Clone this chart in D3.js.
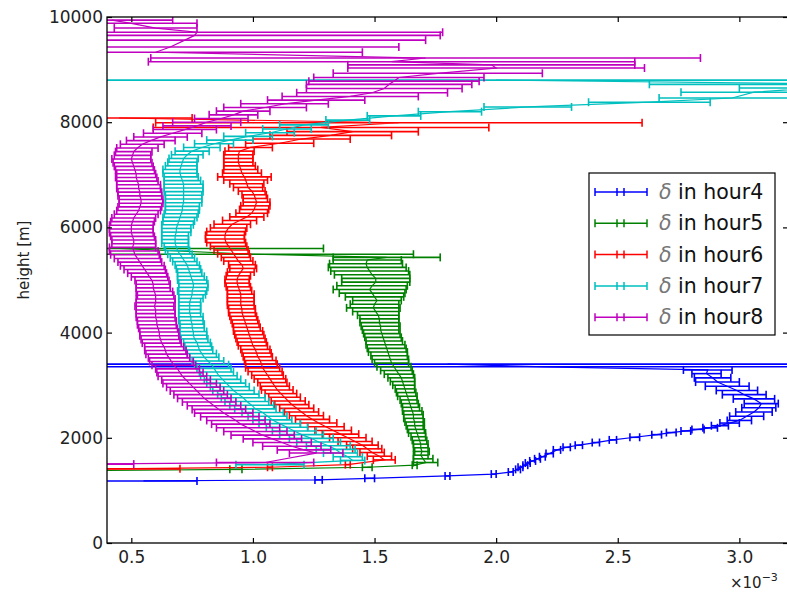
<!DOCTYPE html>
<html>
<head>
<meta charset="utf-8">
<script src="https://cdn.jsdelivr.net/npm/d3@7"></script>
<style>
  html, body { margin: 0; padding: 0; background: #fff; }
  svg { display: block; font-family: "DejaVu Sans", sans-serif; }
</style>
</head>
<body>
<svg id="chart" width="787" height="594"></svg>
<script>
// Profiles of delta (x 1e-3) against height [m]; each row is [height, value, x-error].
const hour4 = [
  [1180, 0.55, 0.22], [1200, 1.27, 0.015], [1230, 1.48, 0.02], [1275, 1.80, 0.01],
  [1310, 1.99, 0.01], [1350, 2.06, 0.01], [1400, 2.09, 0.01], [1440, 2.10, 0.01],
  [1480, 2.12, 0.01], [1520, 2.13, 0.01], [1560, 2.15, 0.012], [1600, 2.17, 0.012],
  [1640, 2.19, 0.012], [1700, 2.22, 0.015], [1770, 2.25, 0.015], [1820, 2.29, 0.015],
  [1860, 2.34, 0.015], [1910, 2.41, 0.015], [1960, 2.48, 0.015], [2010, 2.57, 0.02],
  [2060, 2.66, 0.02], [2100, 2.72, 0.02], [2130, 2.78, 0.02], [2160, 2.83, 0.025],
  [2190, 2.88, 0.03], [2230, 2.92, 0.035], [2280, 2.96, 0.04], [2330, 3.00, 0.05],
  [2410, 3.03, 0.07], [2490, 3.06, 0.075], [2570, 3.08, 0.07], [2650, 3.09, 0.07],
  [2740, 3.06, 0.085], [2820, 3.02, 0.09], [2900, 2.99, 0.085], [2980, 2.95, 0.09],
  [3060, 2.91, 0.09], [3140, 2.89, 0.075], [3220, 2.865, 0.06], [3290, 2.87, 0.1],
  [3350, 2.2, 3.0], [3400, 1.8, 3.0]
];

const hour5 = [
  [1370, 0.2, 0.15], [1400, 0.93, 0.025], [1440, 1.47, 0.02], [1480, 1.665, 0.01],
  [1530, 1.71, 0.05], [1600, 1.70, 0.04], [1670, 1.69, 0.03], [1740, 1.695, 0.03],
  [1810, 1.69, 0.03], [1880, 1.69, 0.03], [1950, 1.685, 0.03], [2020, 1.68, 0.03],
  [2090, 1.675, 0.035], [2160, 1.67, 0.035], [2230, 1.665, 0.035], [2300, 1.665, 0.04],
  [2370, 1.66, 0.04], [2440, 1.66, 0.04], [2510, 1.655, 0.04], [2580, 1.65, 0.035],
  [2650, 1.645, 0.035], [2720, 1.64, 0.035], [2790, 1.635, 0.04], [2860, 1.63, 0.04],
  [2930, 1.625, 0.04], [3000, 1.62, 0.045], [3070, 1.615, 0.05], [3140, 1.61, 0.055],
  [3210, 1.60, 0.06], [3280, 1.59, 0.065], [3350, 1.58, 0.07], [3420, 1.57, 0.07],
  [3490, 1.565, 0.075], [3560, 1.56, 0.075], [3630, 1.555, 0.08], [3700, 1.55, 0.08],
  [3770, 1.545, 0.08], [3840, 1.54, 0.075], [3910, 1.535, 0.075], [3980, 1.53, 0.075],
  [4050, 1.525, 0.075], [4120, 1.525, 0.08], [4190, 1.52, 0.08], [4260, 1.52, 0.08],
  [4330, 1.515, 0.085], [4400, 1.505, 0.095], [4470, 1.495, 0.11], [4540, 1.50, 0.1],
  [4610, 1.51, 0.1], [4680, 1.50, 0.12], [4750, 1.49, 0.135], [4820, 1.48, 0.15],
  [4890, 1.49, 0.145], [4960, 1.505, 0.14], [5030, 1.505, 0.14], [5100, 1.49, 0.155],
  [5170, 1.48, 0.16], [5240, 1.47, 0.16], [5310, 1.465, 0.15], [5380, 1.47, 0.14],
  [5430, 1.55, 0.22], [5490, 1.0, 0.66], [5600, 0.45, 0.84]
];

const hour6 = [
  [1410, 0.40, 0.30], [1440, 1.07, 0.01], [1490, 1.39, 0.01], [1580, 1.54, 0.045],
  [1650, 1.52, 0.05], [1720, 1.49, 0.05], [1790, 1.47, 0.06], [1860, 1.45, 0.065],
  [1930, 1.42, 0.07], [2000, 1.39, 0.075], [2070, 1.36, 0.075], [2140, 1.33, 0.075],
  [2210, 1.30, 0.075], [2280, 1.27, 0.075], [2350, 1.245, 0.07], [2420, 1.22, 0.07],
  [2490, 1.20, 0.07], [2560, 1.18, 0.07], [2630, 1.16, 0.07], [2700, 1.145, 0.07],
  [2770, 1.13, 0.065], [2840, 1.115, 0.065], [2910, 1.10, 0.065], [2980, 1.09, 0.06],
  [3050, 1.08, 0.06], [3120, 1.07, 0.065], [3190, 1.06, 0.065], [3260, 1.05, 0.07],
  [3330, 1.04, 0.07], [3400, 1.035, 0.065], [3470, 1.03, 0.065], [3540, 1.02, 0.06],
  [3610, 1.015, 0.06], [3680, 1.01, 0.06], [3750, 1.0, 0.06], [3820, 0.995, 0.06],
  [3890, 0.99, 0.06], [3960, 0.985, 0.06], [4030, 0.98, 0.06], [4100, 0.975, 0.055],
  [4170, 0.97, 0.055], [4240, 0.965, 0.055], [4310, 0.96, 0.055], [4380, 0.955, 0.055],
  [4450, 0.955, 0.055], [4520, 0.95, 0.055], [4590, 0.95, 0.055], [4660, 0.95, 0.055],
  [4730, 0.95, 0.055], [4800, 0.945, 0.05], [4870, 0.94, 0.05], [4940, 0.935, 0.05],
  [5010, 0.935, 0.05], [5080, 0.94, 0.05], [5150, 0.95, 0.055], [5220, 0.96, 0.055],
  [5290, 0.955, 0.055], [5360, 0.94, 0.06], [5430, 0.93, 0.06], [5500, 0.92, 0.065],
  [5570, 0.91, 0.07], [5640, 0.90, 0.075], [5710, 0.89, 0.08], [5780, 0.885, 0.08],
  [5850, 0.885, 0.08], [5920, 0.89, 0.08], [5990, 0.90, 0.075], [6060, 0.915, 0.075],
  [6130, 0.945, 0.07], [6200, 0.975, 0.07], [6270, 0.995, 0.065], [6340, 1.005, 0.06],
  [6410, 1.01, 0.06], [6480, 1.015, 0.055], [6550, 1.01, 0.05], [6620, 1.005, 0.05],
  [6690, 0.995, 0.055], [6760, 0.98, 0.06], [6830, 0.975, 0.07], [6900, 0.97, 0.09],
  [6960, 0.965, 0.11], [7030, 0.955, 0.08], [7100, 0.95, 0.07], [7170, 0.945, 0.065],
  [7240, 0.94, 0.06], [7310, 0.94, 0.06], [7380, 0.94, 0.06], [7450, 0.945, 0.06],
  [7520, 0.99, 0.09], [7600, 1.11, 0.14], [7680, 1.2, 0.2], [7750, 1.32, 0.25],
  [7820, 1.41, 0.27], [7900, 1.28, 0.69], [7990, 1.6, 1.0], [8080, 0.45, 0.3]
];

const hour7 = [
  [1490, 1.07, 0.14], [1570, 1.41, 0.05], [1640, 1.39, 0.06], [1710, 1.36, 0.07],
  [1780, 1.34, 0.08], [1850, 1.31, 0.09], [1920, 1.27, 0.09], [1990, 1.24, 0.09],
  [2060, 1.20, 0.09], [2130, 1.17, 0.09], [2200, 1.14, 0.085], [2270, 1.11, 0.085],
  [2340, 1.08, 0.08], [2410, 1.06, 0.08], [2480, 1.04, 0.085], [2550, 1.01, 0.085],
  [2620, 0.995, 0.09], [2690, 0.975, 0.09], [2760, 0.96, 0.09], [2830, 0.94, 0.085],
  [2900, 0.92, 0.085], [2970, 0.905, 0.08], [3040, 0.89, 0.08], [3110, 0.875, 0.075],
  [3180, 0.86, 0.075], [3250, 0.85, 0.07], [3320, 0.84, 0.07], [3390, 0.83, 0.07],
  [3460, 0.815, 0.065], [3530, 0.80, 0.06], [3600, 0.79, 0.06], [3670, 0.78, 0.055],
  [3740, 0.775, 0.055], [3810, 0.77, 0.055], [3880, 0.76, 0.055], [3950, 0.755, 0.055],
  [4020, 0.755, 0.055], [4090, 0.75, 0.05], [4160, 0.75, 0.05], [4230, 0.745, 0.05],
  [4300, 0.745, 0.05], [4370, 0.74, 0.045], [4440, 0.74, 0.045], [4510, 0.74, 0.045],
  [4580, 0.74, 0.045], [4650, 0.745, 0.05], [4720, 0.75, 0.055], [4790, 0.75, 0.06],
  [4860, 0.755, 0.06], [4930, 0.755, 0.06], [5000, 0.75, 0.06], [5070, 0.745, 0.055],
  [5140, 0.74, 0.05], [5210, 0.735, 0.05], [5280, 0.73, 0.05], [5350, 0.72, 0.05],
  [5420, 0.71, 0.05], [5490, 0.70, 0.05], [5560, 0.69, 0.05], [5630, 0.685, 0.05],
  [5700, 0.68, 0.055], [5770, 0.68, 0.055], [5840, 0.68, 0.055], [5910, 0.685, 0.06],
  [5980, 0.685, 0.06], [6050, 0.69, 0.065], [6120, 0.695, 0.065], [6190, 0.70, 0.07],
  [6260, 0.705, 0.07], [6330, 0.71, 0.07], [6400, 0.71, 0.07], [6470, 0.715, 0.075],
  [6540, 0.715, 0.075], [6610, 0.715, 0.075], [6680, 0.715, 0.08], [6750, 0.715, 0.08],
  [6820, 0.715, 0.08], [6890, 0.71, 0.075], [6960, 0.705, 0.07], [7030, 0.70, 0.07],
  [7100, 0.70, 0.07], [7170, 0.705, 0.065], [7240, 0.71, 0.06], [7310, 0.715, 0.06],
  [7380, 0.73, 0.065], [7450, 0.75, 0.07], [7520, 0.79, 0.075], [7590, 0.84, 0.08],
  [7660, 0.905, 0.095], [7730, 0.98, 0.1], [7800, 1.07, 0.1], [7870, 1.14, 0.1],
  [7950, 1.21, 0.1], [8040, 1.39, 0.09], [8120, 1.58, 0.11], [8200, 1.81, 0.13],
  [8290, 2.13, 0.18], [8380, 2.63, 0.25], [8460, 2.97, 0.3], [8570, 3.06, 0.3],
  [8650, 3.3, 0.3], [8720, 3.5, 0.87], [8800, 2.0, 3.0]
];

const hour8 = [
  [1500, 0.28, 0.23], [1530, 1.05, 0.2], [1710, 1.26, 0.11], [1770, 1.21, 0.11],
  [1840, 1.16, 0.12], [1910, 1.12, 0.12], [1980, 1.08, 0.12], [2050, 1.04, 0.13],
  [2120, 1.01, 0.13], [2190, 0.98, 0.13], [2260, 0.95, 0.12], [2330, 0.93, 0.12],
  [2400, 0.905, 0.12], [2470, 0.88, 0.12], [2540, 0.86, 0.11], [2610, 0.84, 0.11],
  [2680, 0.82, 0.11], [2750, 0.80, 0.11], [2820, 0.785, 0.11], [2890, 0.77, 0.11],
  [2960, 0.755, 0.11], [3030, 0.74, 0.11], [3100, 0.725, 0.1], [3170, 0.71, 0.1],
  [3240, 0.70, 0.095], [3310, 0.69, 0.09], [3380, 0.675, 0.09], [3450, 0.665, 0.09],
  [3520, 0.655, 0.085], [3590, 0.645, 0.085], [3660, 0.64, 0.085], [3730, 0.635, 0.08],
  [3800, 0.625, 0.08], [3870, 0.62, 0.08], [3940, 0.615, 0.08], [4010, 0.615, 0.08],
  [4080, 0.61, 0.08], [4150, 0.605, 0.08], [4220, 0.605, 0.08], [4290, 0.60, 0.08],
  [4360, 0.60, 0.08], [4430, 0.60, 0.08], [4500, 0.595, 0.08], [4570, 0.6, 0.08],
  [4640, 0.6, 0.08], [4710, 0.6, 0.075], [4780, 0.595, 0.075], [4850, 0.59, 0.07],
  [4920, 0.59, 0.07], [4990, 0.585, 0.07], [5060, 0.575, 0.075], [5130, 0.565, 0.08],
  [5200, 0.555, 0.085], [5270, 0.545, 0.09], [5340, 0.535, 0.09], [5410, 0.525, 0.095],
  [5480, 0.515, 0.1], [5550, 0.51, 0.1], [5620, 0.505, 0.095], [5690, 0.51, 0.09],
  [5760, 0.51, 0.09], [5830, 0.505, 0.09], [5900, 0.5, 0.09], [5970, 0.5, 0.09],
  [6040, 0.5, 0.09], [6110, 0.505, 0.09], [6180, 0.51, 0.09], [6250, 0.52, 0.09],
  [6320, 0.53, 0.09], [6390, 0.535, 0.09], [6460, 0.54, 0.09], [6530, 0.54, 0.09],
  [6600, 0.535, 0.09], [6670, 0.535, 0.09], [6740, 0.53, 0.09], [6810, 0.53, 0.09],
  [6880, 0.525, 0.085], [6950, 0.52, 0.085], [7020, 0.52, 0.08], [7090, 0.515, 0.08],
  [7160, 0.51, 0.08], [7230, 0.505, 0.08], [7300, 0.5, 0.08], [7370, 0.505, 0.075],
  [7440, 0.51, 0.075], [7510, 0.525, 0.085], [7580, 0.545, 0.09], [7650, 0.58, 0.1],
  [7720, 0.62, 0.11], [7790, 0.67, 0.12], [7860, 0.72, 0.13], [7930, 0.77, 0.14],
  [8000, 0.81, 0.14], [8070, 0.87, 0.11], [8140, 0.92, 0.1], [8210, 0.96, 0.11],
  [8280, 1.05, 0.17], [8350, 1.13, 0.18], [8420, 1.26, 0.2], [8490, 1.40, 0.28],
  [8560, 1.49, 0.31], [8640, 1.54, 0.32], [8720, 1.56, 0.34], [8780, 1.58, 0.35],
  [8850, 1.6, 0.35], [8930, 1.76, 0.43], [9030, 2.0, 0.61], [9090, 1.98, 0.59],
  [9150, 1.57, 1.0], [9220, 1.71, 1.13], [9330, 0.6, 0.85], [9430, 0.66, 0.94],
  [9560, 0.72, 0.99], [9650, 0.76, 1.01], [9710, 0.77, 1.01], [9790, 0.6, 0.17],
  [9880, 0.5, 0.27], [9940, 0.42, 0.25]
];

const seriesLabels = ["hour4", "hour5", "hour6", "hour7", "hour8"];
const seriesColors = ["#0000ff", "#008000", "#ff0000", "#00bfbf", "#bf00bf"];
const xTicks = [0.5, 1.0, 1.5, 2.0, 2.5, 3.0];
const yTicks = [0, 2000, 4000, 6000, 8000, 10000];

const series = [hour4, hour5, hour6, hour7, hour8].map((rows, i) => ({
  label: seriesLabels[i], color: seriesColors[i], rows
}));

const svg = d3.select("#chart");
const plotLeft = 107, plotRight = 788, plotTop = 17, plotBottom = 543;

const x = d3.scaleLinear().domain([0.4, 3.2]).range([plotLeft, plotRight]);
const y = d3.scaleLinear().domain([0, 10000]).range([plotBottom, plotTop]);

svg.append("defs").append("clipPath").attr("id", "plot-clip")
  .append("rect").attr("x", plotLeft).attr("y", plotTop)
  .attr("width", plotRight - plotLeft).attr("height", plotBottom - plotTop);

const plot = svg.append("g").attr("clip-path", "url(#plot-clip)");
const capHalf = 4;
const barWidth = 1.6;

series.forEach(s => {
  const g = plot.append("g").attr("stroke", s.color).attr("fill", "none");
  // connecting line through the centres
  g.append("path")
    .datum(s.rows)
    .attr("stroke-width", 1.2)
    .attr("d", d3.line().x(d => x(d[1])).y(d => y(d[0])));
  // horizontal error bars with caps
  const bars = g.selectAll("g.bar").data(s.rows).join("g").attr("class", "bar");
  bars.append("line")
    .attr("stroke-width", barWidth)
    .attr("x1", d => x(d[1] - d[2])).attr("x2", d => x(d[1] + d[2]))
    .attr("y1", d => y(d[0])).attr("y2", d => y(d[0]));
  [-1, 1].forEach(side => {
    bars.append("line")
      .attr("stroke-width", barWidth)
      .attr("x1", d => x(d[1] + side * d[2])).attr("x2", d => x(d[1] + side * d[2]))
      .attr("y1", d => y(d[0]) - capHalf).attr("y2", d => y(d[0]) + capHalf);
  });
});

// axes with inward ticks on all four sides
const fmtX = d3.format(".1f");
const axisStyle = g => {
  g.selectAll(".domain").remove();
  g.selectAll(".tick line").attr("stroke", "#000").attr("stroke-width", 1.2);
  g.selectAll(".tick text").attr("fill", "#222").style("font-size", "17px")
    .style("font-family", "DejaVu Sans, sans-serif");
};

svg.append("g").attr("transform", `translate(0,${plotBottom})`)
  .call(d3.axisBottom(x).tickValues(xTicks).tickFormat(fmtX).tickSize(-5).tickPadding(8))
  .call(axisStyle);
svg.append("g").attr("transform", `translate(0,${plotTop})`)
  .call(d3.axisTop(x).tickValues(xTicks).tickFormat("").tickSize(-5))
  .call(axisStyle);
svg.append("g").attr("transform", `translate(${plotLeft},0)`)
  .call(d3.axisLeft(y).tickValues(yTicks).tickFormat(d3.format("d")).tickSize(-5).tickPadding(4))
  .call(axisStyle);
svg.append("g").attr("transform", `translate(${plotRight},0)`)
  .call(d3.axisRight(y).tickValues(yTicks).tickFormat("").tickSize(-5))
  .call(axisStyle);

svg.append("rect").attr("x", plotLeft).attr("y", plotTop)
  .attr("width", plotRight - plotLeft).attr("height", plotBottom - plotTop)
  .attr("fill", "none").attr("stroke", "#000").attr("stroke-width", 1.3);

// axis titles
svg.append("text")
  .attr("transform", "translate(29,260) rotate(-90)")
  .attr("text-anchor", "middle").attr("fill", "#222")
  .style("font-size", "15px").text("height [m]");

const scaleNote = svg.append("text").attr("x", 730).attr("y", 588)
  .attr("fill", "#222").style("font-size", "15px");
scaleNote.append("tspan").text("×10");
scaleNote.append("tspan").attr("dy", -7).style("font-size", "11px").text("−3");

// legend
const legend = svg.append("g");
legend.append("rect").attr("x", 589).attr("y", 173).attr("width", 186).attr("height", 162)
  .attr("fill", "#fff").attr("stroke", "#000").attr("stroke-width", 1.2);
series.forEach((s, i) => {
  const ly = 192 + i * 31.3;
  const lg = legend.append("g").attr("stroke", s.color).attr("stroke-width", 1.5);
  lg.append("line").attr("x1", 595).attr("x2", 647).attr("y1", ly).attr("y2", ly);
  [595, 617, 624, 647].forEach(cx => {
    lg.append("line").attr("x1", cx).attr("x2", cx).attr("y1", ly - 4).attr("y2", ly + 4);
  });
  const t = legend.append("text").attr("x", 659).attr("y", ly + 7)
    .style("font-size", "20.5px").attr("fill", "#111");
  t.append("tspan").style("font-style", "italic").attr("fill", "#777").text("δ");
  t.append("tspan").text(" in " + s.label);
});
</script>
</body>
</html>
